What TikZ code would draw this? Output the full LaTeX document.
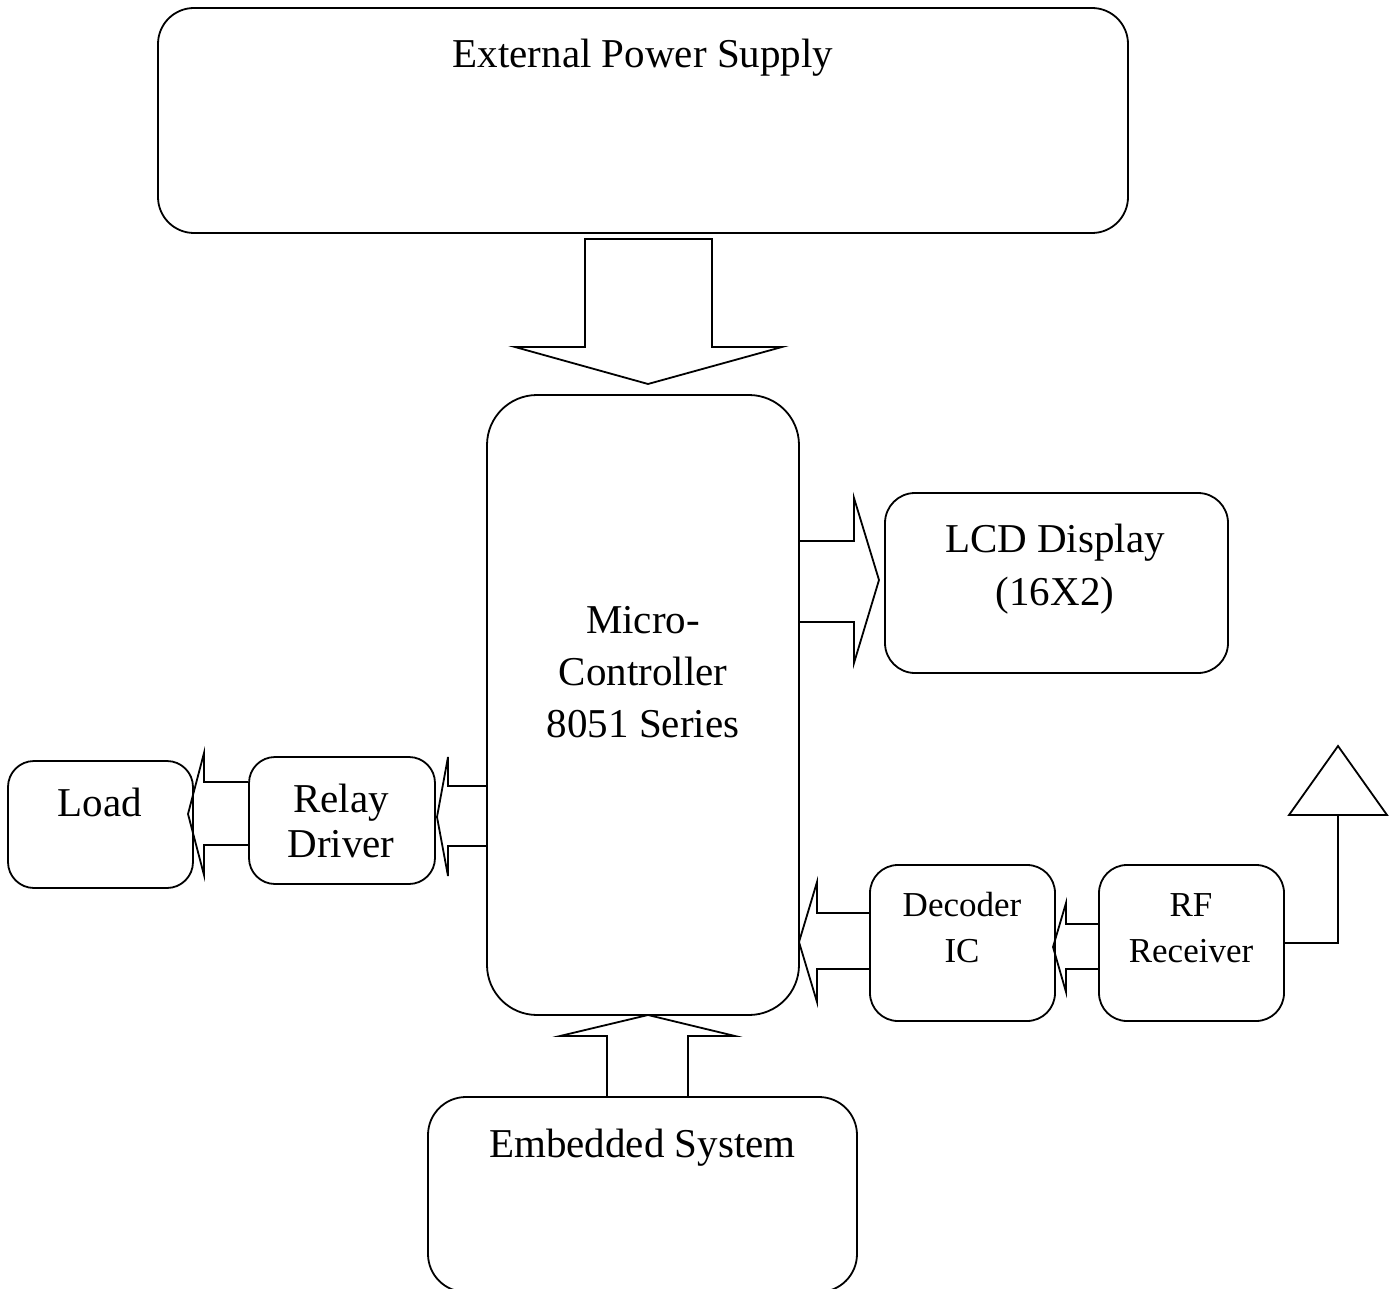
\documentclass[tikz,border=0pt]{standalone}
\usepackage{fontspec}
\setmainfont{Liberation Serif}
\begin{document}
\begin{tikzpicture}[x=1pt,y=-1pt,
  box/.style={draw, line width=1.8pt, rectangle, inner sep=0pt},
  blk/.style={draw, line width=1.8pt, line join=miter},
  big/.style={inner sep=0pt, anchor=base, font=\fontsize{41pt}{52pt}\selectfont},
  small/.style={inner sep=0pt, anchor=base, font=\fontsize{35pt}{46pt}\selectfont}]
\useasboundingbox (0,0) rectangle (1392,1289);
% boxes
\node[box, rounded corners=36pt, minimum width=970pt, minimum height=225pt] (eps) at (643,120.5) {};
\node[box, rounded corners=50pt, minimum width=312pt, minimum height=620pt] (mc) at (643,705) {};
\node[box, rounded corners=30pt, minimum width=343pt, minimum height=180pt] (lcd) at (1056.5,583) {};
\node[box, rounded corners=26pt, minimum width=185pt, minimum height=127pt] (load) at (100.5,824.5) {};
\node[box, rounded corners=26pt, minimum width=186pt, minimum height=127pt] (relay) at (342,820.5) {};
\node[box, rounded corners=28pt, minimum width=185pt, minimum height=156pt] (dec) at (962.5,943) {};
\node[box, rounded corners=28pt, minimum width=185pt, minimum height=156pt] (rf) at (1191.5,943) {};
\node[box, rounded corners=38pt, minimum width=429pt, minimum height=195pt] (emb) at (642.5,1194.5) {};
% texts
\node[big] (epst) at (643,68) {External Power Supply};
\node[big] (mct1) at (643,633) {Micro-};
\node[big] (mct2) at (643,685) {Controller};
\node[big] (mct3) at (643,737) {8051 Series};
\node[big] (lcdt1) at (1055,552) {LCD Display};
\node[big] (lcdt2) at (1055,605) {(16X2)};
\node[big] (loadt) at (100,816) {Load};
\node[big] (relayt1) at (341,812) {Relay};
\node[big] (relayt2) at (341,857) {Driver};
\node[small] (dect1) at (962,916) {Decoder};
\node[small] (dect2) at (962,962) {IC};
\node[small] (rft1) at (1191,916) {RF};
\node[small] (rft2) at (1191,962) {Receiver};
\node[big] (embt) at (642.5,1157) {Embedded System};
% block arrows
% power supply -> micro-controller
\draw[blk] (585,239) -- (712,239) -- (712,347) -- (782,347) -- (648,384) -- (515,347) -- (585,347) -- cycle;
% micro-controller -> LCD
\draw[blk] (mc.east |- 0,541) -- (854,541) -- (854,498) -- (879,580) -- (854,663) -- (854,622) -- (mc.east |- 0,622);
% micro-controller -> relay driver
\draw[blk] (mc.west |- 0,786) -- (448,786) -- (448,757) -- (437,817) -- (448,876) -- (448,846) -- (mc.west |- 0,846);
% relay driver -> load
\draw[blk] (relay.west |- 0,782) -- (204,782) -- (204,753) -- (188,814) -- (204,875) -- (204,845) -- (relay.west |- 0,845);
% decoder -> micro-controller
\draw[blk] (dec.west |- 0,913) -- (817,913) -- (817,882) -- (799,942) -- (817,1002) -- (817,969) -- (dec.west |- 0,969);
% RF receiver -> decoder
\draw[blk] (rf.west |- 0,924) -- (1066,924) -- (1066,903) -- (1053,947) -- (1066,992) -- (1066,969) -- (rf.west |- 0,969);
% embedded system -> micro-controller
\draw[blk] (607,0 |- emb.north) -- (607,1036) -- (560,1036) -- (648,1015) -- (735,1036) -- (688,1036) -- (688,0 |- emb.north);
% antenna
\coordinate (ant) at (1338,815);
\draw[blk] (1289,815) -- (1338,746) -- (1387,815) -- cycle;
\draw[blk] (rf.east) -| (ant);
\end{tikzpicture}
\end{document}
